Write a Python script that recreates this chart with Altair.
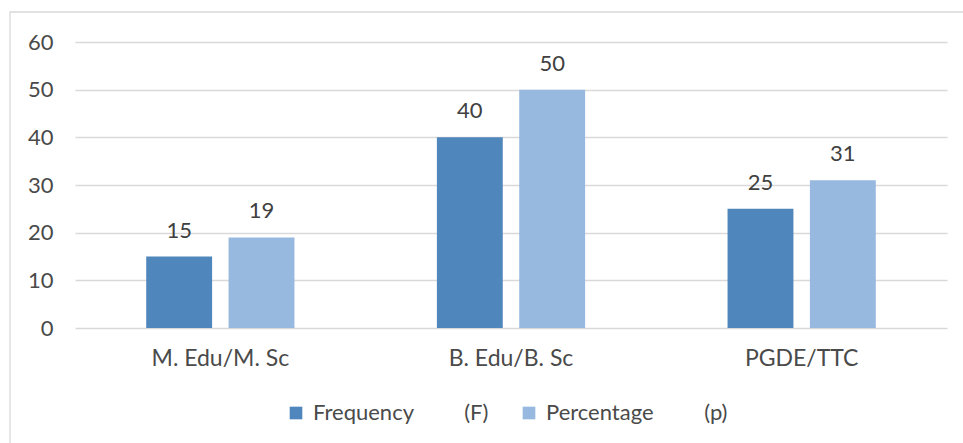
import altair as alt
import pandas as pd

categories = ["M. Edu/M. Sc", "B. Edu/B. Sc", "PGDE/TTC"]
frequency = [15, 40, 25]
percentage = [19, 50, 31]
NB = "\u00a0"
series = ["Frequency" + NB * 9 + "(F)", "Percentage" + NB * 9 + "(p)"]
colors = ["#4F87BC", "#97B8DF"]

rows = []
for c, f, p in zip(categories, frequency, percentage):
    rows.append({"category": c, "series": series[0], "value": f})
    rows.append({"category": c, "series": series[1], "value": p})
df = pd.DataFrame(rows)

FONT = "Lato"
W, H = 872, 286
TXT = "#4a4a4a"

x = alt.X("category:N", sort=categories, title=None,
          scale=alt.Scale(paddingInner=0.49, paddingOuter=0.245),
          axis=alt.Axis(labelAngle=0, labelFontSize=23, labelColor=TXT,
                        labelFont=FONT, labelPadding=19, ticks=False, domain=False))
xo = alt.XOffset("series:N", sort=series,
                 scale=alt.Scale(paddingInner=0.2, paddingOuter=0))
y = alt.Y("value:Q", title=None,
          scale=alt.Scale(domain=[0, 60]),
          axis=alt.Axis(values=[0, 10, 20, 30, 40, 50, 60], labelFontSize=22,
                        labelColor=TXT, labelFont=FONT, labelPadding=22,
                        ticks=False, domain=False, gridColor="#d9d9d9", gridWidth=1.3))

border = alt.Chart(pd.DataFrame({"a": [0]})).mark_rect(
    fill=None, stroke="#d9d9d9", strokeWidth=1.3
).encode(x=alt.value(-65), x2=alt.value(W + 30), y=alt.value(-30), y2=alt.value(H + 140))

bars = alt.Chart(df).mark_bar().encode(
    x=x, xOffset=xo, y=y,
    color=alt.Color("series:N", sort=series, title=None,
                    scale=alt.Scale(domain=series, range=colors),
                    legend=alt.Legend(orient="none", direction="horizontal",
                                      legendX=210, legendY=360,
                                      symbolType="square", symbolSize=160,
                                      symbolStrokeWidth=0, labelFontSize=22,
                                      labelFont=FONT, labelColor=TXT,
                                      labelOffset=6, columnPadding=29,
                                      labelLimit=400)),
)

labels = alt.Chart(df).mark_text(
    baseline="alphabetic", dy=-19, fontSize=22, font=FONT, color="#404040"
).encode(x=x, xOffset=xo, y=y, text=alt.Text("value:Q"))

chart = alt.layer(border, bars, labels).properties(
    width=W, height=H,
    padding={"left": 75, "top": 42, "right": 16, "bottom": 115},
    autosize=alt.AutoSizeParams(type="none"),
    background="white",
).configure_view(stroke=None)

chart.save("out.html", embed_options={"renderer": "svg", "actions": False})
